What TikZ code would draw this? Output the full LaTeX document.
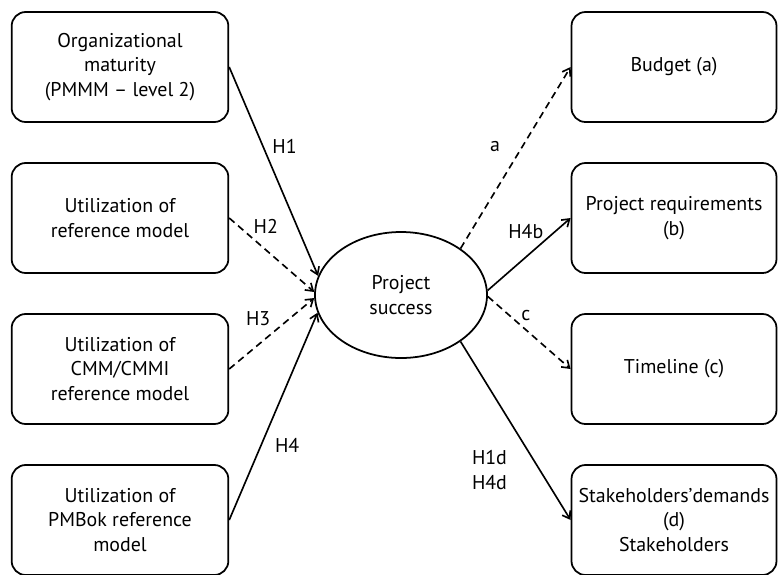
\documentclass[tikz,border=0pt]{standalone}
\usepackage{fontspec}
\setmainfont{PT Sans}
\usepackage{tikz}
\usetikzlibrary{shapes.geometric, arrows.meta}

\begin{document}
\begin{tikzpicture}[->, >={Straight Barb[length=6pt, width=8pt]}, line width=1.4pt, x=0.03cm, y=-0.03cm,
    font=\fontsize{17}{21}\selectfont,
    box/.style={draw, line width=1.5pt, rounded corners=12pt, align=center, minimum height=3.3cm},
    lbox/.style={box, minimum width=6.5cm},
    rbox/.style={box, minimum width=6.15cm},
    hyp/.style={dash pattern=on 6pt off 4pt}]
    \useasboundingbox (0,0) rectangle (778,574);
    \node[lbox] (org) at (120,67) {Organizational\\maturity\\(PMMM -- level 2)};
    \node[lbox] (refm) at (120,218) {Utilization of\\reference model};
    \node[lbox] (cmmi) at (120,369) {Utilization of\\CMM/CMMI\\reference model};
    \node[lbox] (pmbok) at (120,520) {Utilization of\\PMBok reference\\model};
    \node[draw, ellipse, line width=1.5pt, inner sep=0pt, minimum width=5.16cm, minimum height=3.78cm, align=center] (ps) at (401,295) {Project\\success};
    \node[rbox] (budget) at (674,67) {Budget (a)};
    \node[rbox] (req) at (674,218) {Project requirements\\(b)};
    \node[rbox] (time) at (674,369) {Timeline (c)};
    \node[rbox] (stake) at (674,520) {Stakeholders'demands\\(d)\\Stakeholders};
    \path
      (org.east) edge node[pos=.38, right=4pt] {H1} (ps.167)
      (refm.east) edge[hyp] node[pos=.25, anchor=south west, inner sep=2pt] {H2} (ps.178)
      (cmmi.east) edge[hyp] node[pos=.34, above=12pt] {H3} (ps.182)
      (pmbok.east) edge node[pos=.36, right=8pt] {H4} (ps.192)
      (ps.38) edge[hyp] node[pos=.56, left=15pt] {a} (budget.west)
      (ps.3) edge node[pos=.46, above=12pt] {H4b} (req.west)
      (ps.-1) edge[hyp] node[pos=.46, above=4pt] {c} (time.west)
      (ps.-38) edge node[pos=.72, left=24pt, align=center] {H1d\\H4d} (stake.west);
\end{tikzpicture}
\end{document}
